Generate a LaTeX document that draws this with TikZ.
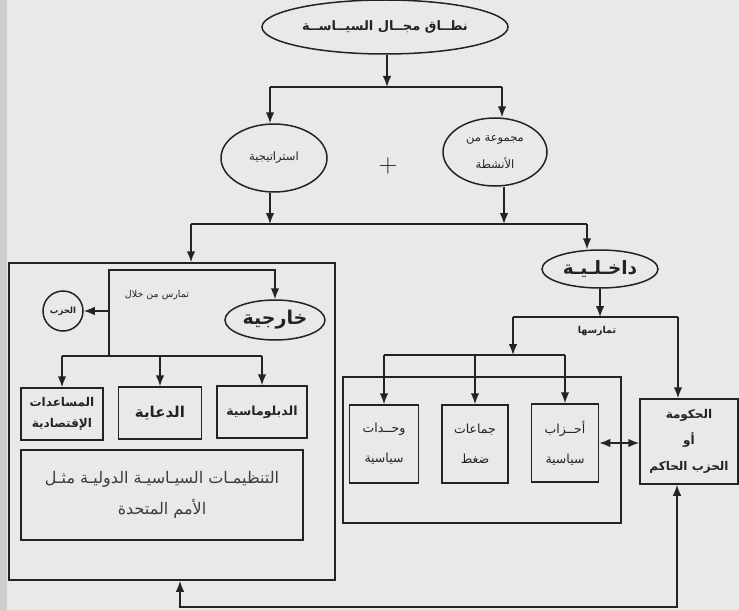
\documentclass[tikz,border=0pt]{standalone}
\usepackage{fontspec}
\usetikzlibrary{arrows.meta,shapes.geometric}
\newfontfamily\arabicfont[Script=Arabic]{DejaVu Sans}
\TeXXeTstate=1
\newcommand{\artx}[1]{{\arabicfont\beginR #1\endR}}
\definecolor{bgc}{RGB}{233,233,231}
\definecolor{stripc}{RGB}{205,205,203}
\definecolor{inkc}{RGB}{35,35,35}
\definecolor{fadec}{RGB}{60,60,60}
\tikzset{
  ln/.style={draw=inkc, line width=1.5pt},
  arr/.style={ln, -{Latex[length=11pt,width=8.5pt]}},
  dbl/.style={ln, {Latex[length=11pt,width=8.5pt]}-{Latex[length=11pt,width=8.5pt]}},
  box/.style={draw=inkc, line width=1.5pt, rectangle, inner sep=0pt, text=inkc, align=center},
  ell/.style={draw=inkc, line width=1.5pt, ellipse, inner sep=0pt, text=inkc, align=center},
  lbl/.style={text=inkc, inner sep=0pt}
}
\begin{document}
\begin{tikzpicture}[x=1pt,y=-1pt]
\useasboundingbox (0,0) rectangle (739,610);
\fill[bgc] (0,0) rectangle (739,610);
\fill[stripc] (0,0) rectangle (7,610);

% top level
\node[ell, minimum width=246pt, minimum height=54pt, font=\bfseries\fontsize{13}{15}\selectfont] (scope) at (385,27) {\artx{نطــاق مجــال السيــاســة}};
\node[ell, minimum width=106pt, minimum height=68pt, font=\fontsize{11.5}{13}\selectfont] (strat) at (274,158) {\artx{استراتيجية}};
\node[ell, minimum width=104pt, minimum height=68pt, font=\fontsize{11.5}{27}\selectfont] (acts) at (495,152) {\artx{مجموعة من}\\\artx{الأنشطة}};
\node[lbl, font=\fontsize{26}{26}\selectfont] (plus) at (388,166) {+};

\coordinate (j1) at (387,87);
\coordinate (j1l) at (270,87);
\coordinate (j1r) at (502,87);
\draw[arr] (scope.south -| j1) -- (j1);
\draw[ln] (j1l) -- (j1r);
\draw[arr] (j1l) -- (j1l |- strat.north);
\draw[arr] (j1r) -- (j1r |- acts.north);

\coordinate (j2l) at (191,224);
\coordinate (j2r) at (587,224);
\coordinate (j2a) at (270,224);
\coordinate (j2b) at (504,224);
\draw[arr] (strat.south -| j2a) -- (j2a);
\draw[arr] (acts.south -| j2b) -- (j2b);
\draw[ln] (j2l) -- (j2r);

% external side
\node[box, minimum width=326pt, minimum height=317pt] (ext) at (172,421.5) {};
\draw[arr] (j2l) -- (j2l |- ext.north);

\node[ell, minimum width=100pt, minimum height=40pt, font=\bfseries\fontsize{19}{21}\selectfont] (khar) at (275,320) {\artx{خارجية}};
\node[ell, circle, minimum size=40pt, font=\bfseries\fontsize{8.5}{10}\selectfont] (hizb) at (63,311) {\artx{الحزب}};
\node[lbl, font=\fontsize{9.5}{11}\selectfont] (t1) at (157,295) {\artx{تمارس من خلال}};

\coordinate (b1) at (109,270);
\coordinate (b2) at (275,270);
\coordinate (b3) at (109,356);
\coordinate (b4) at (109,311);
\draw[arr] (b3) -- (b1) -- (b2) -- (khar.north);
\draw[arr] (b4) -- (hizb.east);

\node[box, minimum width=82pt, minimum height=52pt, font=\bfseries\fontsize{12}{21}\selectfont] (aid) at (62,414) {\artx{المساعدات}\\\artx{الإقتصادية}};
\node[box, minimum width=83pt, minimum height=52pt, font=\bfseries\fontsize{15}{17}\selectfont] (prop) at (160,413) {\artx{الدعاية}};
\node[box, minimum width=90pt, minimum height=52pt, font=\bfseries\fontsize{12.5}{14}\selectfont] (dipl) at (262,412) {\artx{الدبلوماسية}};
\node[box, minimum width=282pt, minimum height=90pt, text=fadec, font=\fontsize{16}{31}\selectfont] (intl) at (162,495) {\artx{التنظيمـات السيـاسيـة الدوليـة مثـل}\\\artx{الأمم المتحدة}};

\coordinate (c0) at (109,356);
\draw[ln] (aid.north |- c0) -- (dipl.north |- c0);
\draw[arr] (aid.north |- c0) -- (aid.north);
\draw[arr] (prop.north |- c0) -- (prop.north);
\draw[arr] (dipl.north |- c0) -- (dipl.north);

% internal side
\node[ell, minimum width=116pt, minimum height=38pt, font=\bfseries\fontsize{18.5}{20}\selectfont] (dakh) at (600,269) {\artx{داخـلـيـة}};
\draw[arr] (j2r) -- (j2r |- dakh.north);
\coordinate (d1) at (600,317);
\coordinate (d2) at (513,317);
\coordinate (d3) at (678,317);
\coordinate (e0) at (513,355);
\draw[arr] (dakh.south) -- (d1);
\draw[ln] (d2) -- (d3);
\draw[arr] (d2) -- (e0);
\node[lbl, font=\bfseries\fontsize{9.5}{11}\selectfont] (t2) at (597,331) {\artx{تمارسها}};

\node[box, minimum width=278pt, minimum height=146pt] (mid) at (482,450) {};
\node[box, minimum width=69pt, minimum height=78pt, font=\fontsize{12.5}{30}\selectfont] (units) at (384,444) {\artx{وحــدات}\\\artx{سياسية}};
\node[box, minimum width=66pt, minimum height=78pt, font=\fontsize{12.5}{30}\selectfont] (press) at (475,444) {\artx{جماعات}\\\artx{ضغط}};
\node[box, minimum width=67pt, minimum height=78pt, font=\fontsize{12.5}{30}\selectfont] (parties) at (565,443) {\artx{أحــزاب}\\\artx{سياسية}};
\node[box, minimum width=98pt, minimum height=85pt, font=\bfseries\fontsize{12}{26}\selectfont] (gov) at (689,441.5) {\artx{الحكومة}\\\artx{أو}\\\artx{الحزب الحاكم}};

\draw[ln] (units.north |- e0) -- (parties.north |- e0);
\draw[arr] (units.north |- e0) -- (units.north);
\draw[arr] (press.north |- e0) -- (press.north);
\draw[arr] (parties.north |- e0) -- (parties.north);
\draw[arr] (d3) -- (d3 |- gov.north);
\draw[dbl] (parties.east) -- (parties.east -| gov.west);

% feedback loop
\coordinate (f1) at (180,607);
\coordinate (f2) at (677,607);
\draw[dbl] (ext.south -| f1) -- (f1) -- (f2) -- (gov.south -| f2);
\end{tikzpicture}
\end{document}
